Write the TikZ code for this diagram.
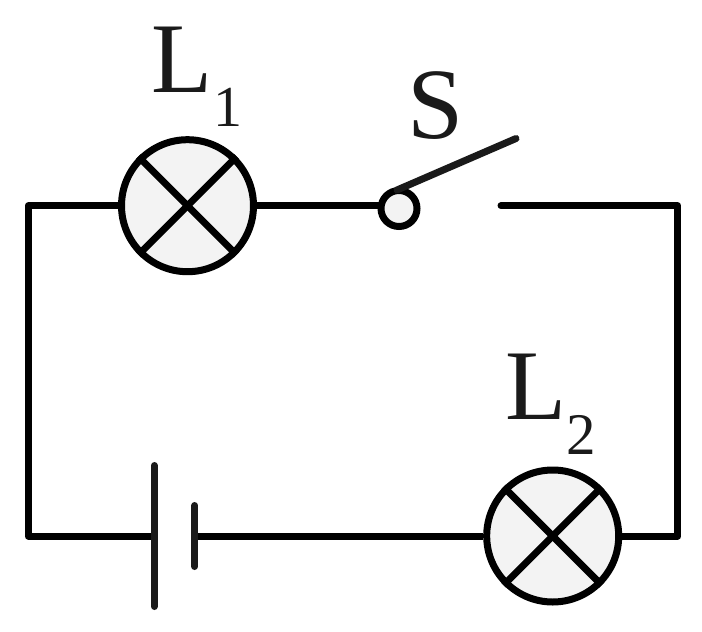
\documentclass[tikz,border=0pt]{standalone}
\usepackage{fontspec}
\setmainfont{Liberation Serif}
\usetikzlibrary{positioning,calc,shapes}
\definecolor{lampfill}{RGB}{243,243,243}
\definecolor{ink}{RGB}{26,26,26}
\tikzstyle{lamp}= [circle, draw=black, fill=lampfill, line width=7pt, inner sep=0pt, minimum size=132pt]
\tikzstyle{wire}= [draw=black, line width=7pt, line join=round]
\tikzstyle{bar}= [draw=ink, line width=7pt, line cap=round]
\tikzstyle{lbl}= [inner sep=0pt, text=ink]
\tikzstyle{pivot}= [circle, draw=black, fill=lampfill, line width=7pt, inner sep=0pt, minimum size=36pt]

\begin{document}
\begin{tikzpicture}[x=1pt,y=-1pt]
				\useasboundingbox (0, 0) rectangle (702, 632);
				\coordinate (c1) at (28.3, 205.7);
				\coordinate (c2) at (677.7, 205.7);
				\coordinate (c3) at (677.7, 536);
				\coordinate (c4) at (28.3, 536);
				\coordinate (j) at (399, 205.7);
				\coordinate (s0) at (397, 190);
				\coordinate (s1) at (516, 138.5);
				\coordinate (s2) at (501, 205.7);
				\coordinate (b1t) at (154.3, 465.5);
				\coordinate (b1b) at (154.3, 606.5);
				\coordinate (b2t) at (194.7, 505.5);
				\coordinate (b2b) at (194.7, 566.5);
				\coordinate (b1) at (154.3, 536);
				\coordinate (b2) at (194.7, 536);

				\node[lamp] (l1) at (187.5, 205.7) {};
				\node[lamp] (l2) at (552.7, 536) {};

				\draw[wire](l1) -- (c1) -- (c4) -- (b1);
				\draw[wire](l1) -- (j);
				\draw[wire, line cap=round](s2) -- (c2) -- (c3) -- (l2);
				\draw[wire](b2) -- (l2);

				\node[pivot] (p) at (399, 208.5) {};

				\draw[bar](s0) -- (s1);
				\draw[bar](b1t) -- (b1b);
				\draw[bar](b2t) -- (b2b);

				\draw[wire](l1.45) -- (l1.225);
				\draw[wire](l1.135) -- (l1.315);
				\draw[wire](l2.45) -- (l2.225);
				\draw[wire](l2.135) -- (l2.315);

				\node[lbl, font=\fontsize{100}{100}\selectfont] (t1) at (182, 60) {L};
				\node[lbl, font=\fontsize{58}{58}\selectfont] (t1s) at (227.5, 107.5) {1};
				\node[lbl, font=\fontsize{100}{100}\selectfont] (t2) at (536.5, 387) {L};
				\node[lbl, font=\fontsize{59}{59}\selectfont] (t2s) at (581, 435) {2};
				\node[lbl, font=\fontsize{101}{101}\selectfont] (ts) at (435.3, 106) {S};
			\end{tikzpicture}
\end{document}
